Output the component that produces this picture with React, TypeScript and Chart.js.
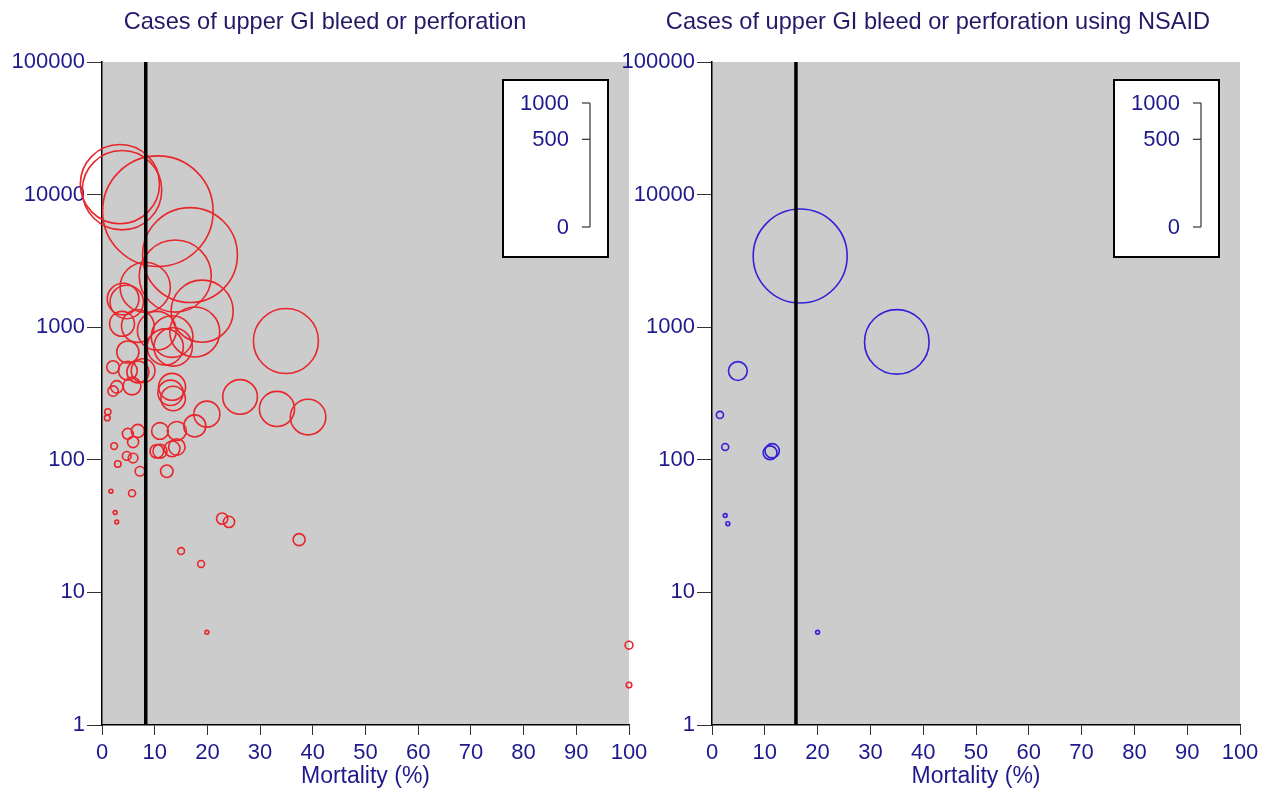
import React, { useEffect, useRef } from 'react';
import { Chart, registerables } from 'chart.js';

Chart.register(...registerables);

// ---------- data ----------
const xTickValues = [0, 10, 20, 30, 40, 50, 60, 70, 80, 90, 100];
const yTickValues = [1, 10, 100, 1000, 10000, 100000];
const sizeLegendValues = [0, 500, 1000];

const titleAll = 'Cases of upper GI bleed or perforation';
const titleNsaid = 'Cases of upper GI bleed or perforation using NSAID';
const xAxisTitle = 'Mortality (%)';

// all studies: mortality (%) and number of cases
const allMortality = [
  3.4, 3.8, 10.6, 16.7, 13.9, 8.2, 19.0, 17.6, 4.0, 4.7,
  3.8, 6.8, 10.4, 13.3, 13.5, 12.0, 4.9, 4.9, 2.1, 7.8,
  6.8, 5.7, 2.1, 2.8, 13.3, 13.0, 13.5, 26.2, 33.2, 39.1,
  19.9, 17.6, 34.9, 1.1, 1.0, 4.9, 6.8, 5.9, 11.0, 14.2,
  2.3, 10.4, 11.0, 13.3, 14.2, 4.7, 5.9, 3.0, 7.2, 12.3,
  1.7, 5.7, 2.5, 2.8, 22.8, 24.1, 37.4, 15.0, 18.8, 19.9,
  100, 100,
];
const allCases = [
  12000, 10800, 7500, 3500, 2430, 2000, 1320, 920, 1630, 1550,
  1060, 1020, 940, 850, 710, 710, 650, 470, 500, 470,
  460, 360, 330, 355, 355, 320, 290, 298, 242, 210,
  221, 180, 787, 230, 207, 157, 165, 136, 165, 165,
  127, 116, 116, 121, 125, 107, 103, 93, 82, 82,
  58, 56, 40, 34, 36, 34, 25, 20.5, 16.4, 5,
  4, 2,
];

// studies of NSAID users
const nsaidMortality = [16.7, 35.0, 4.9, 1.5, 2.5, 11.0, 11.4, 2.5, 3.0, 20.0];
const nsaidCases = [3440, 775, 467, 218, 125, 113, 117, 38, 33, 5];

// pooled mortality reference lines
const allPooledMortality = 8.3;
const nsaidPooledMortality = 15.9;

// ---------- styling ----------
const FONT = '"Liberation Sans", Arial, Helvetica, sans-serif';
const TITLE_COLOR = '#221a66';
const TICK_COLOR = '#1f1a8c';
const PLOT_BG = '#cccccc';
const RED = '#e8262b';
const BLUE = '#3420d8';
const SIZE_PX = 124; // diameter of a bubble for 1000 deaths (sqrt scale)

const radiusFor = (mortality: number, cases: number) =>
  (SIZE_PX / 2) * Math.sqrt((mortality * cases) / 100 / 1000);

function makeDecor(title: string, titleX: number) {
  return {
    id: 'panelDecor',
    beforeDraw(chart: any) {
      const { ctx, chartArea: a } = chart;
      ctx.save();
      ctx.fillStyle = PLOT_BG;
      ctx.fillRect(a.left, a.top, a.right - a.left, a.bottom - a.top);
      ctx.restore();
    },
    afterDraw(chart: any) {
      const { ctx, chartArea: a } = chart;
      ctx.save();
      // panel title
      ctx.font = `23.6px ${FONT}`;
      ctx.fillStyle = TITLE_COLOR;
      ctx.textAlign = 'center';
      ctx.textBaseline = 'middle';
      ctx.fillText(title, titleX, 22);

      // bubble-size key
      const boxW = 105;
      const boxH = 177;
      const bx = a.right - 21 - boxW;
      const by = a.top + 18;
      ctx.fillStyle = '#ffffff';
      ctx.fillRect(bx, by, boxW, boxH);
      ctx.lineWidth = 2;
      ctx.strokeStyle = '#000000';
      ctx.strokeRect(bx, by, boxW, boxH);
      const base = by + 147;
      const lineX = bx + 87;
      ctx.strokeStyle = '#333333';
      ctx.lineWidth = 1.2;
      ctx.beginPath();
      ctx.moveTo(lineX, base - SIZE_PX);
      ctx.lineTo(lineX, base);
      ctx.stroke();
      ctx.font = `22px ${FONT}`;
      ctx.fillStyle = TICK_COLOR;
      ctx.textAlign = 'right';
      ctx.textBaseline = 'middle';
      for (const v of sizeLegendValues) {
        const yy = base - SIZE_PX * Math.sqrt(v / 1000);
        ctx.beginPath();
        ctx.moveTo(lineX - 8, yy);
        ctx.lineTo(lineX, yy);
        ctx.stroke();
        ctx.fillText(String(v), bx + 66, yy + 1);
      }
      ctx.restore();
    },
  };
}

function makeConfig(
  title: string,
  titleX: number,
  mortality: number[],
  cases: number[],
  color: string,
  pooled: number,
  rightPad: number
): any {
  const points = mortality.map((m, i) => ({ x: m, y: cases[i], r: radiusFor(m, cases[i]) }));
  return {
    type: 'bubble',
    data: {
      datasets: [
        {
          type: 'line',
          data: [
            { x: pooled, y: yTickValues[0] },
            { x: pooled, y: yTickValues[yTickValues.length - 1] },
          ],
          borderColor: '#000000',
          borderWidth: 3.5,
          pointRadius: 0,
          fill: false,
        },
        {
          type: 'bubble',
          data: points,
          backgroundColor: 'rgba(0,0,0,0)',
          borderColor: color,
          borderWidth: 1.6,
          hoverBorderWidth: 1.6,
          clip: false,
        },
      ],
    },
    options: {
      responsive: false,
      animation: false,
      events: [],
      layout: { autoPadding: false, padding: { left: 0, right: rightPad, top: 62, bottom: 0 } },
      plugins: {
        legend: { display: false },
        tooltip: { enabled: false },
        title: { display: false },
      },
      scales: {
        x: {
          type: 'linear',
          min: xTickValues[0],
          max: xTickValues[xTickValues.length - 1],
          afterBuildTicks: (s: any) => {
            s.ticks = xTickValues.map((v) => ({ value: v }));
          },
          afterFit: (s: any) => {
            s.height = 65;
            s.paddingLeft = 0;
            s.paddingRight = 0;
          },
          ticks: {
            color: TICK_COLOR,
            font: { size: 22, family: FONT },
            padding: 5,
            maxRotation: 0,
            autoSkip: false,
            callback: (v: any) => String(v),
          },
          grid: {
            drawOnChartArea: false,
            drawTicks: true,
            tickLength: 10,
            tickColor: '#333333',
            tickWidth: 1,
          },
          border: { display: true, color: '#000000', width: 1.5 },
          title: {
            display: true,
            text: xAxisTitle,
            color: TICK_COLOR,
            font: { size: 23, family: FONT },
            padding: { top: 0, bottom: 0 },
          },
        },
        y: {
          type: 'logarithmic',
          min: yTickValues[0],
          max: yTickValues[yTickValues.length - 1],
          afterBuildTicks: (s: any) => {
            s.ticks = yTickValues.map((v) => ({ value: v }));
          },
          afterFit: (s: any) => {
            s.width = 102;
            s.paddingTop = 0;
            s.paddingBottom = 0;
          },
          ticks: {
            color: TICK_COLOR,
            font: { size: 22, family: FONT },
            padding: 2,
            autoSkip: false,
            callback: (v: any) => String(v),
          },
          grid: {
            drawOnChartArea: false,
            drawTicks: true,
            tickLength: 15,
            tickColor: '#333333',
            tickWidth: 1,
          },
          border: { display: true, color: '#000000', width: 1.5 },
        },
      },
    },
    plugins: [makeDecor(title, titleX)],
  };
}

export default function App() {
  const leftRef = useRef<HTMLCanvasElement>(null);
  const rightRef = useRef<HTMLCanvasElement>(null);

  useEffect(() => {
    const c1 = new Chart(
      leftRef.current as HTMLCanvasElement,
      makeConfig(titleAll, 325, allMortality, allCases, RED, allPooledMortality, 31)
    );
    const c2 = new Chart(
      rightRef.current as HTMLCanvasElement,
      makeConfig(titleNsaid, 938 - 610, nsaidMortality, nsaidCases, BLUE, nsaidPooledMortality, 25)
    );
    return () => {
      c1.destroy();
      c2.destroy();
    };
  }, []);

  return (
    <div
      style={{
        position: 'fixed',
        left: 0,
        top: 0,
        width: 1265,
        height: 790,
        background: '#ffffff',
        overflow: 'hidden',
      }}
    >
      <canvas
        ref={leftRef}
        width={660}
        height={790}
        style={{ position: 'absolute', left: 0, top: 0, width: 660, height: 790 }}
      />
      <canvas
        ref={rightRef}
        width={655}
        height={790}
        style={{ position: 'absolute', left: 610, top: 0, width: 655, height: 790 }}
      />
    </div>
  );
}
